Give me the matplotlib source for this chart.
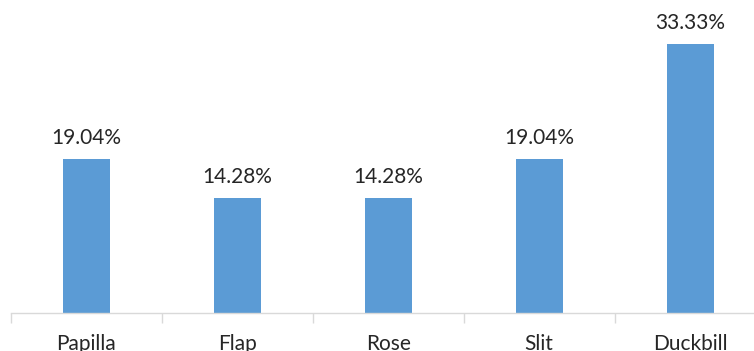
import matplotlib
matplotlib.use("Agg")
import matplotlib.pyplot as plt
import numpy as np

categories = ["Papilla", "Flap", "Rose", "Slit", "Duckbill"]
values = [19.04, 14.28, 14.28, 19.04, 33.33]
labels = ["19.04%", "14.28%", "14.28%", "19.04%", "33.33%"]

plt.rcParams['font.family'] = ['Lato', 'DejaVu Sans']

fig = plt.figure(figsize=(7.54, 3.51), dpi=100)
ax = fig.add_axes([10.6/754, 38/351, 755/754, 313/351])
x = np.arange(len(categories))
ax.bar(x, values, width=0.31, color="#5B9BD5", zorder=2)
ax.set_xlim(-0.5, 4.5)
ax.set_ylim(0, 313/8.08)
for xi, v, lab in zip(x, values, labels):
    ax.annotate(lab, (xi, v), xytext=(0, 8), textcoords="offset points",
                ha="center", va="bottom", fontsize=15, color="#262626")

for s in ["top", "right", "left"]:
    ax.spines[s].set_visible(False)
ax.spines["bottom"].set_color("#d9d9d9")
ax.spines["bottom"].set_linewidth(1)
ax.set_yticks([])
ax.set_xticks(np.arange(-0.5, 4.6, 1.0), minor=False)
ax.set_xticklabels([])
ax.tick_params(axis="x", which="major", length=7, color="#d9d9d9", width=1)
ax.set_xticks(x, minor=True)
ax.set_xticklabels(categories, minor=True, fontsize=15, color="#262626")
ax.tick_params(axis="x", which="minor", length=0, pad=15)

fig.savefig("out.png", dpi=100)
